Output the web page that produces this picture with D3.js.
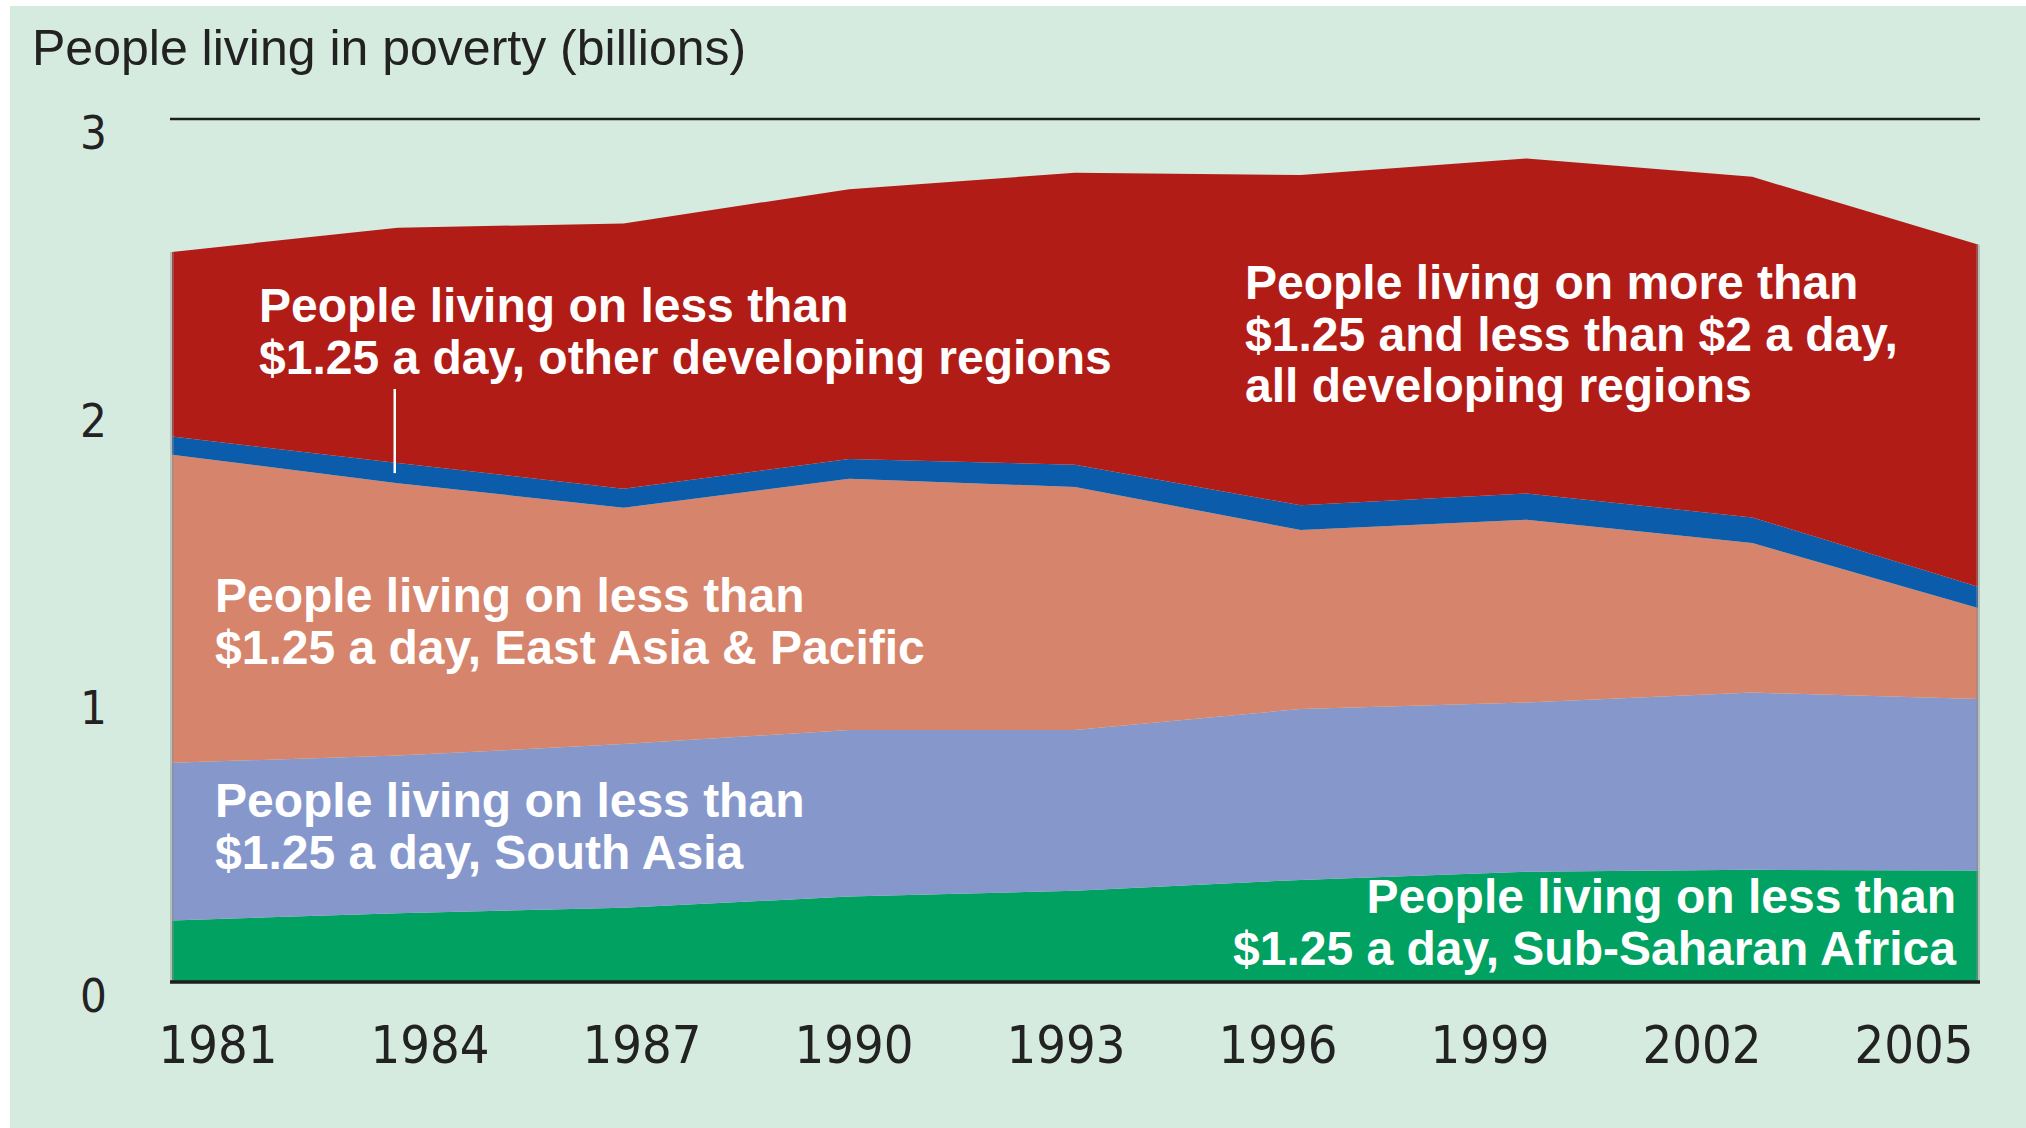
<!DOCTYPE html>
<html><head><meta charset="utf-8">
<script src="https://cdn.jsdelivr.net/npm/d3@7"></script>
<style>html,body{margin:0;padding:0;background:#fff;} svg{display:block;}</style>
</head><body>
<svg id="chart" width="2026" height="1128"></svg>
<script>
// ---- data (billions of people) ----
const years = [1981, 1984, 1987, 1990, 1993, 1996, 1999, 2002, 2005];
const subSaharanAfrica = [0.214, 0.239, 0.258, 0.297, 0.317, 0.355, 0.383, 0.390, 0.388];
const southAsia        = [0.548, 0.548, 0.569, 0.579, 0.559, 0.594, 0.589, 0.616, 0.596];
const eastAsiaPacific  = [1.071, 0.947, 0.822, 0.873, 0.845, 0.622, 0.635, 0.520, 0.316];
const otherRegions     = [0.063, 0.070, 0.066, 0.069, 0.077, 0.086, 0.091, 0.089, 0.074];
const between125and2   = [0.642, 0.818, 0.922, 0.938, 1.015, 1.148, 1.165, 1.184, 1.190];
const yTickValues = [0, 1, 2, 3];
const xTickLabels = ["1981", "1984", "1987", "1990", "1993", "1996", "1999", "2002", "2005"];
const seriesKeys = ["ssa", "sa", "eap", "other", "mid"];
const titleText = "People living in poverty (billions)";

const table = years.map((y, i) => ({
  year: y,
  ssa: subSaharanAfrica[i],
  sa: southAsia[i],
  eap: eastAsiaPacific[i],
  other: otherRegions[i],
  mid: between125and2[i]
}));

const colors = {ssa: "#00a161", sa: "#8698cb", eap: "#d6856c", other: "#0b5cab", mid: "#b21c17"};

const svg = d3.select("#chart");
const W = 2026, H = 1128;
const plotL = 172, plotR = 1978, plotTop = 119, plotBottom = 982;

svg.append("rect").attr("x", 10).attr("y", 6).attr("width", W - 10).attr("height", H - 6).attr("fill", "#d6ebe0");

const x = d3.scaleLinear().domain([1981, 2005]).range([plotL, plotR]);
const y = d3.scaleLinear().domain([0, 3]).range([plotBottom, plotTop]);
const xLabel = d3.scalePoint().domain(xTickLabels).range([218, 1914]);

const stack = d3.stack().keys(seriesKeys);
const layers = stack(table);

const area = d3.area()
  .x(d => x(d.data.year))
  .y0(d => y(d[0]))
  .y1(d => y(d[1]))
  .curve(d3.curveLinear);

svg.append("g").selectAll("path").data(layers).join("path")
  .attr("d", area)
  .attr("fill", d => colors[d.key]);

// faint edges at the left and right of the area
const totalTop = layers[layers.length - 1];
svg.append("g").selectAll("line").data([totalTop[0], totalTop[totalTop.length - 1]]).join("line")
  .attr("x1", d => x(d.data.year)).attr("x2", d => x(d.data.year))
  .attr("y1", d => y(d[1])).attr("y2", y(0))
  .attr("stroke", "rgba(140,140,140,0.45)").attr("stroke-width", 4);

// gridline at top and baseline
svg.append("line").attr("x1", plotL - 2).attr("x2", plotR + 2).attr("y1", y(3)).attr("y2", y(3))
  .attr("stroke", "#1e1e1e").attr("stroke-width", 2.5);
svg.append("line").attr("x1", plotL - 2).attr("x2", plotR + 2).attr("y1", y(0)).attr("y2", y(0))
  .attr("stroke", "#1e1e1e").attr("stroke-width", 3.5);

// y axis labels
const numFont = "'DejaVu Sans Condensed', 'DejaVu Sans', sans-serif";
svg.append("g").selectAll("text").data(yTickValues).join("text")
  .attr("x", 107).attr("y", d => y(d) + 30)
  .attr("text-anchor", "end")
  .style("font-family", numFont).style("font-stretch", "condensed")
  .style("font-size", "47px").attr("fill", "#222")
  .text(d => d);

// x axis labels
svg.append("g").selectAll("text").data(xTickLabels).join("text")
  .attr("x", d => xLabel(d)).attr("y", 1063)
  .attr("text-anchor", "middle")
  .style("font-family", numFont).style("font-stretch", "condensed")
  .style("font-size", "52px").attr("fill", "#222")
  .text(d => d);

// title
svg.append("text").attr("x", 32).attr("y", 65)
  .style("font-family", "'Liberation Sans', Arial, sans-serif").style("font-size", "50px")
  .attr("fill", "#222").text(titleText);

// annotations
const annFont = "'Liberation Sans', Arial, sans-serif";
function label(lines, xPos, yFirst, anchor) {
  const t = svg.append("text")
    .attr("text-anchor", anchor || "start")
    .style("font-family", annFont).style("font-weight", "bold").style("font-size", "48px")
    .attr("fill", "#fff");
  lines.forEach((s, i) => {
    t.append("tspan").attr("x", xPos).attr("y", yFirst + i * 51.6).text(s);
  });
}
label(["People living on less than", "$1.25 a day, other developing regions"], 259, 322);
label(["People living on more than", "$1.25 and less than $2 a day,", "all developing regions"], 1245, 299);
label(["People living on less than", "$1.25 a day, East Asia & Pacific"], 215, 612);
label(["People living on less than", "$1.25 a day, South Asia"], 215, 817);
label(["People living on less than", "$1.25 a day, Sub-Saharan Africa"], 1956, 913, "end");

// leader line to the "other developing regions" band at 1984
const p84 = layers[3][1];
svg.append("line")
  .attr("x1", x(p84.data.year) - 3).attr("x2", x(p84.data.year) - 3)
  .attr("y1", 389).attr("y2", y((p84[0] + p84[1]) / 2))
  .attr("stroke", "#fff").attr("stroke-width", 2.5);
</script>
</body></html>
